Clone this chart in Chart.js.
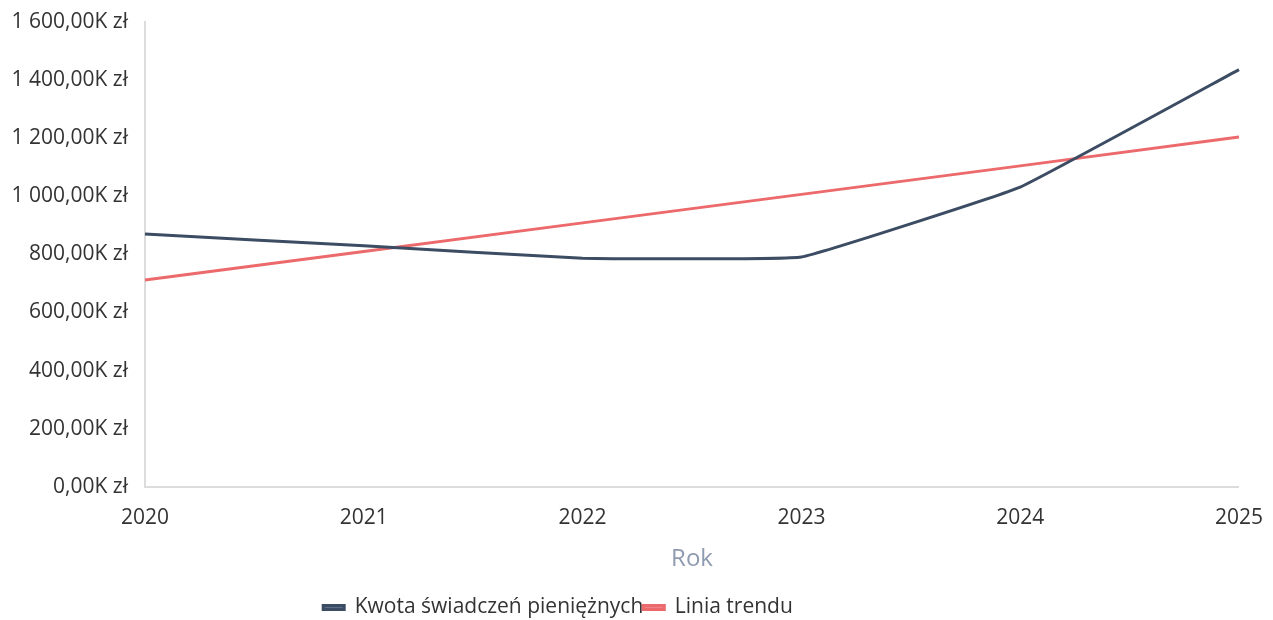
<!DOCTYPE html>
<html lang="pl">
<head>
<meta charset="utf-8">
<script src="https://cdn.jsdelivr.net/npm/chart.js@4.4.1/dist/chart.umd.min.js"></script>
<style>
  html, body { margin: 0; padding: 0; background: #fff; }
  #wrap { width: 1273px; height: 620px; position: relative; }
</style>
</head>
<body>
<div id="wrap"><canvas id="chart"></canvas></div>
<script>
// ---- data (thousands of zł) ----
const years = ['2020', '2021', '2022', '2023', '2024', '2025'];
const kwota = [870, 829, 786, 791, 1031, 1435];
const trend = [712, 810, 908, 1006, 1104, 1203];
const yTicks = [0, 200, 400, 600, 800, 1000, 1200, 1400, 1600];

// "1 600,00K zł"
function fmtK(v) {
  const parts = v.toFixed(2).split('.');
  const intPart = parts[0].replace(/\B(?=(\d{3})+(?!\d))/g, ' ');
  return intPart + ',' + parts[1] + 'K zł';
}

// legend sits left of centre and a little lower in the original
const legendShift = {
  id: 'legendShift',
  afterLayout(chart) {
    const lg = chart.legend;
    if (!lg) return;
    lg.left -= 69; lg.right -= 69;
    lg.top += 8; lg.bottom += 8;
  }
};

Chart.defaults.font.family = "'Open Sans', 'Noto Sans', sans-serif";
Chart.defaults.color = '#333';

new Chart(document.getElementById('chart'), {
  type: 'line',
  data: {
    labels: years,
    datasets: [
      { label: 'Kwota świadczeń pieniężnych', data: kwota, borderColor: '#3b4c63', backgroundColor: '#5b6f8a', borderWidth: 3, pointRadius: 0, tension: 0.08 },
      { label: 'Linia trendu', data: trend, borderColor: '#ec6a6c', backgroundColor: '#ee8485', borderWidth: 3, pointRadius: 0, tension: 0 }
    ]
  },
  options: {
    responsive: true,
    maintainAspectRatio: false,
    animation: false,
    layout: { padding: { left: 10, right: 29, top: 12, bottom: 0 } },
    plugins: {
      legend: {
        position: 'bottom',
        labels: { boxWidth: 21, boxHeight: 4, padding: 0, color: '#333', font: { size: 21 } }
      },
      tooltip: { enabled: false }
    },
    scales: {
      x: {
        offset: false,
        grid: { display: false },
        border: { color: '#dcdcdc', width: 2 },
        ticks: { color: '#333', font: { size: 21 }, padding: 10, maxRotation: 0 },
        title: { display: true, text: 'Rok', color: '#8f9bb0', font: { size: 24 }, padding: { top: 5, bottom: 15 } }
      },
      y: {
        min: 0,
        max: 1600,
        afterBuildTicks: axis => { axis.ticks = yTicks.map(v => ({ value: v })); },
        afterFit: axis => { axis.width = 135; },
        grid: { display: false },
        border: { color: '#dcdcdc', width: 2 },
        ticks: { color: '#333', font: { size: 21 }, padding: 9, callback: v => fmtK(v) }
      }
    }
  },
  plugins: [legendShift]
});
</script>
</body>
</html>
